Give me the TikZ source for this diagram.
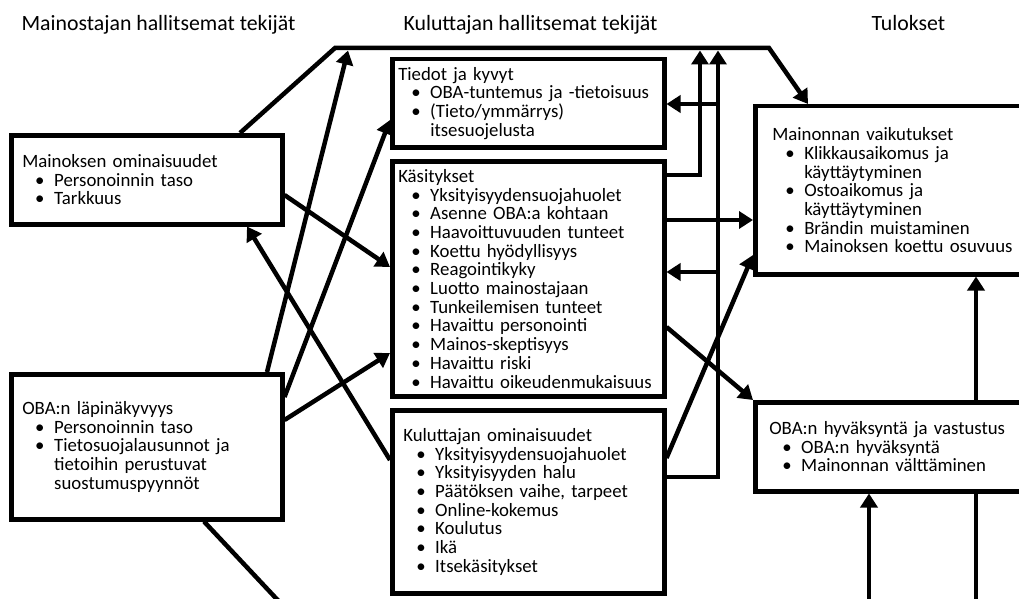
\documentclass[tikz,border=0pt]{standalone}
\usepackage{fontspec}
\setmainfont{Carlito}
\usetikzlibrary{arrows.meta,positioning}
\newcommand\itm{\hspace*{13pt}\makebox[19pt][l]{\textbullet}}
\newcommand\itmc{\hspace*{32pt}}
\tikzset{
  box/.style={draw,align=left,anchor=north west,font=\fontsize{18.8}{18.7}\selectfont},
  head/.style={anchor=base west,font=\fontsize{21.8}{24}\selectfont}
}

\begin{document}
\begin{tikzpicture}[x=1pt,y=-1pt,>={Triangle[length=14pt,width=17pt]},line width=4.5pt,node distance=9.5pt]
  \useasboundingbox (0,0) rectangle (1019,599);
  \clip (0,0) rectangle (1019,599);

  \node[head] (h1) at (16,31)  {Mainostajan hallitsemat tekijät};
  \node[head] (h2) at (398,31) {Kuluttajan hallitsemat tekijät};
  \node[head] (h3) at (866,31) {Tulokset};

  \node[box,text width=249pt,inner xsep=11pt,minimum height=89pt]  (mo) at (9,133)
    {Mainoksen ominaisuudet\\\itm Personoinnin taso\\\itm Tarkkuus};
  \node[box,text width=249pt,inner xsep=11pt,minimum height=145pt] (ol) [below=145.5pt of mo]
    {OBA:n läpinäkyvyys\\\itm Personoinnin taso\\\itm Tietosuojalausunnot ja\\\itmc tietoihin perustuvat\\\itmc suostumuspyynnöt};
  \node[box,text width=260pt,inner xsep=6pt,minimum height=88pt]   (tk) at (390,57)
    {Tiedot ja kyvyt\\\itm OBA-tuntemus ja -tietoisuus\\\itm (Tieto/ymmärrys)\\\itmc itsesuojelusta};
  \node[box,text width=260pt,inner xsep=6pt,minimum height=235pt]  (ka) [below=of tk]
    {Käsitykset\\\itm Yksityisyydensuojahuolet\\\itm Asenne OBA:a kohtaan\\\itm Haavoittuvuuden tunteet\\\itm Koettu hyödyllisyys\\\itm Reagointikyky\\\itm Luotto mainostajaan\\\itm Tunkeilemisen tunteet\\\itm Havaittu personointi\\\itm Mainos-skeptisyys\\\itm Havaittu riski\\\itm Havaittu oikeudenmukaisuus};
  \node[box,text width=250pt,inner xsep=11pt,minimum height=183pt] (ko) [below=of ka]
    {Kuluttajan ominaisuudet\\\itm Yksityisyydensuojahuolet\\\itm Yksityisyyden halu\\\itm Päätöksen vaihe, tarpeet\\\itm Online-kokemus\\\itm Koulutus\\\itm Ikä\\\itm Itsekäsitykset};
  \node[box,text width=266pt,inner xsep=17pt,minimum height=168pt] (mv) at (753,104)
    {Mainonnan vaikutukset\\\itm Klikkausaikomus ja\\\itmc käyttäytyminen\\\itm Ostoaikomus ja\\\itmc käyttäytyminen\\\itm Brändin muistaminen\\\itm Mainoksen koettu osuvuus};
  \node[box,text width=272pt,inner xsep=14pt,minimum height=89pt]  (oh) [below=123.5pt of mv]
    {OBA:n hyväksyntä ja vastustus\\\itm OBA:n hyväksyntä\\\itm Mainonnan välttäminen};

  \coordinate (tl) at (335,48);
  \coordinate (tr) at (769,48);
  \coordinate (m1) at (348,50.5);
  \coordinate (m2) at (700,50.5);
  \coordinate (m3) at (718,50.5);
  \coordinate (j1) at (718,104);
  \coordinate (j2) at (718,272);
  \coordinate (b1) at (869,610);
  \coordinate (b2) at (976,610);
  \coordinate (b3) at (287,610);

  \draw[->] (240,0 |- mo.north) -- (tl) -- (tr) -- (808,0 |- mv.north);
  \draw[->] (267,0 |- ol.north) -- (m1);
  \draw[->] (ka.east |- 0,175) -| (m2);
  \draw[->] (ko.east |- 0,477) -| (m3);
  \path[->] (ol.east |- 0,397) edge (tk.west |- 0,120)
            (ol.east |- 0,420) edge (ka.west |- 0,353)
            (mo.east |- 0,195) edge (ka.west |- 0,267)
            (ko.west |- 0,460) edge (247,0 |- mo.south)
            (j1) edge (tk.east |- j1)
            (j2) edge (ka.east |- j2)
            (ka.east |- 0,220) edge (mv.west |- 0,220)
            (ko.east |- 0,458) edge (mv.west |- 0,255)
            (ka.east |- 0,327) edge (oh.north west)
            (976,0 |- oh.north) edge (976,0 |- mv.south)
            (b1) edge (b1 |- oh.south);
  \draw (b2) -- (b2 |- oh.south);
  \draw (204,0 |- ol.south) -- (b3);
\end{tikzpicture}
\end{document}
